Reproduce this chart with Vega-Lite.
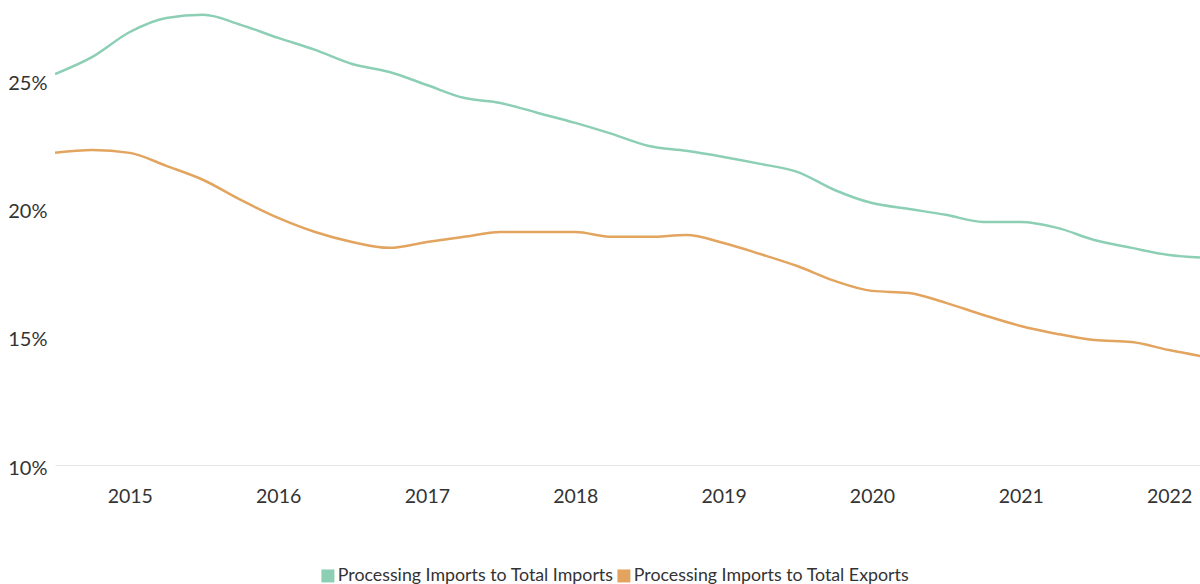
{
  "$schema": "https://vega.github.io/schema/vega-lite/v6.json",
  "width": 1145,
  "height": 465,
  "autosize": {"type": "none"},
  "padding": {"left": 55, "top": 0, "right": 0, "bottom": 119},
  "background": "white",
  "config": {
    "view": {"stroke": null},
    "font": "Lato"
  },
  "data": {
    "values": [
      {"date": "2014-07-01", "series": "Processing Imports to Total Imports", "value": 25.27},
      {"date": "2014-10-01", "series": "Processing Imports to Total Imports", "value": 25.94},
      {"date": "2015-01-01", "series": "Processing Imports to Total Imports", "value": 26.91},
      {"date": "2015-04-01", "series": "Processing Imports to Total Imports", "value": 27.46},
      {"date": "2015-07-01", "series": "Processing Imports to Total Imports", "value": 27.58},
      {"date": "2015-10-01", "series": "Processing Imports to Total Imports", "value": 27.19},
      {"date": "2016-01-01", "series": "Processing Imports to Total Imports", "value": 26.68},
      {"date": "2016-04-01", "series": "Processing Imports to Total Imports", "value": 26.21},
      {"date": "2016-07-01", "series": "Processing Imports to Total Imports", "value": 25.66},
      {"date": "2016-10-01", "series": "Processing Imports to Total Imports", "value": 25.35},
      {"date": "2017-01-01", "series": "Processing Imports to Total Imports", "value": 24.84},
      {"date": "2017-04-01", "series": "Processing Imports to Total Imports", "value": 24.34},
      {"date": "2017-07-01", "series": "Processing Imports to Total Imports", "value": 24.14},
      {"date": "2017-10-01", "series": "Processing Imports to Total Imports", "value": 23.75},
      {"date": "2018-01-01", "series": "Processing Imports to Total Imports", "value": 23.36},
      {"date": "2018-04-01", "series": "Processing Imports to Total Imports", "value": 22.93},
      {"date": "2018-07-01", "series": "Processing Imports to Total Imports", "value": 22.46},
      {"date": "2018-10-01", "series": "Processing Imports to Total Imports", "value": 22.27},
      {"date": "2019-01-01", "series": "Processing Imports to Total Imports", "value": 22.03},
      {"date": "2019-04-01", "series": "Processing Imports to Total Imports", "value": 21.76},
      {"date": "2019-07-01", "series": "Processing Imports to Total Imports", "value": 21.45},
      {"date": "2019-10-01", "series": "Processing Imports to Total Imports", "value": 20.74},
      {"date": "2020-01-01", "series": "Processing Imports to Total Imports", "value": 20.23},
      {"date": "2020-04-01", "series": "Processing Imports to Total Imports", "value": 20.0},
      {"date": "2020-07-01", "series": "Processing Imports to Total Imports", "value": 19.77},
      {"date": "2020-10-01", "series": "Processing Imports to Total Imports", "value": 19.49},
      {"date": "2021-01-01", "series": "Processing Imports to Total Imports", "value": 19.49},
      {"date": "2021-04-01", "series": "Processing Imports to Total Imports", "value": 19.26},
      {"date": "2021-07-01", "series": "Processing Imports to Total Imports", "value": 18.79},
      {"date": "2021-10-01", "series": "Processing Imports to Total Imports", "value": 18.48},
      {"date": "2022-01-01", "series": "Processing Imports to Total Imports", "value": 18.2},
      {"date": "2022-04-01", "series": "Processing Imports to Total Imports", "value": 18.09},
      {"date": "2014-07-01", "series": "Processing Imports to Total Exports", "value": 22.19},
      {"date": "2014-10-01", "series": "Processing Imports to Total Exports", "value": 22.3},
      {"date": "2015-01-01", "series": "Processing Imports to Total Exports", "value": 22.19},
      {"date": "2015-04-01", "series": "Processing Imports to Total Exports", "value": 21.68},
      {"date": "2015-07-01", "series": "Processing Imports to Total Exports", "value": 21.13},
      {"date": "2015-10-01", "series": "Processing Imports to Total Exports", "value": 20.35},
      {"date": "2016-01-01", "series": "Processing Imports to Total Exports", "value": 19.65},
      {"date": "2016-04-01", "series": "Processing Imports to Total Exports", "value": 19.1},
      {"date": "2016-07-01", "series": "Processing Imports to Total Exports", "value": 18.71},
      {"date": "2016-10-01", "series": "Processing Imports to Total Exports", "value": 18.48},
      {"date": "2017-01-01", "series": "Processing Imports to Total Exports", "value": 18.71},
      {"date": "2017-04-01", "series": "Processing Imports to Total Exports", "value": 18.91},
      {"date": "2017-07-01", "series": "Processing Imports to Total Exports", "value": 19.1},
      {"date": "2017-10-01", "series": "Processing Imports to Total Exports", "value": 19.1},
      {"date": "2018-01-01", "series": "Processing Imports to Total Exports", "value": 19.1},
      {"date": "2018-04-01", "series": "Processing Imports to Total Exports", "value": 18.91},
      {"date": "2018-07-01", "series": "Processing Imports to Total Exports", "value": 18.91},
      {"date": "2018-10-01", "series": "Processing Imports to Total Exports", "value": 18.98},
      {"date": "2019-01-01", "series": "Processing Imports to Total Exports", "value": 18.67},
      {"date": "2019-04-01", "series": "Processing Imports to Total Exports", "value": 18.24},
      {"date": "2019-07-01", "series": "Processing Imports to Total Exports", "value": 17.77},
      {"date": "2019-10-01", "series": "Processing Imports to Total Exports", "value": 17.19},
      {"date": "2020-01-01", "series": "Processing Imports to Total Exports", "value": 16.8},
      {"date": "2020-04-01", "series": "Processing Imports to Total Exports", "value": 16.72},
      {"date": "2020-07-01", "series": "Processing Imports to Total Exports", "value": 16.33},
      {"date": "2020-10-01", "series": "Processing Imports to Total Exports", "value": 15.86},
      {"date": "2021-01-01", "series": "Processing Imports to Total Exports", "value": 15.43},
      {"date": "2021-04-01", "series": "Processing Imports to Total Exports", "value": 15.12},
      {"date": "2021-07-01", "series": "Processing Imports to Total Exports", "value": 14.88},
      {"date": "2021-10-01", "series": "Processing Imports to Total Exports", "value": 14.8},
      {"date": "2022-01-01", "series": "Processing Imports to Total Exports", "value": 14.49},
      {"date": "2022-04-01", "series": "Processing Imports to Total Exports", "value": 14.22}
    ]
  },
  "mark": {"type": "line", "interpolate": "monotone", "strokeWidth": 2.5, "clip": true},
  "encoding": {
    "x": {
      "field": "date",
      "type": "temporal",
      "scale": {"domain": ["2014-07-01", "2022-03-18"], "nice": false},
      "axis": {
        "title": null,
        "format": "%Y",
        "values": ["2015-01-01", "2016-01-01", "2017-01-01", "2018-01-01", "2019-01-01", "2020-01-01", "2021-01-01", "2022-01-01"],
        "grid": false,
        "ticks": false,
        "domainColor": "#e6e6e6",
        "domainWidth": 1,
        "labelFontSize": 19.5,
        "labelColor": "#333333",
        "labelPadding": 22,
        "labelFlush": false
      }
    },
    "y": {
      "field": "value",
      "type": "quantitative",
      "scale": {"domain": [10, 28.16], "nice": false, "zero": false},
      "axis": {
        "title": null,
        "values": [10, 15, 20, 25],
        "labelExpr": "datum.value + '%'",
        "grid": false,
        "ticks": false,
        "domain": false,
        "labelFontSize": 20,
        "labelColor": "#333333",
        "labelPadding": 8,
        "labelOffset": 3
      }
    },
    "color": {
      "field": "series",
      "type": "nominal",
      "sort": ["Processing Imports to Total Imports", "Processing Imports to Total Exports"],
      "scale": {"domain": ["Processing Imports to Total Imports", "Processing Imports to Total Exports"], "range": ["#8ccfb5", "#e2a45e"]},
      "legend": {
        "title": null,
        "orient": "none",
        "direction": "horizontal",
        "legendX": 264,
        "legendY": 567,
        "symbolType": "square",
        "symbolSize": 16,
        "symbolStrokeWidth": 9,
        "symbolOpacity": 1,
        "labelFontSize": 17.8,
        "labelColor": "#333333",
        "labelOffset": 1,
        "columnPadding": -11,
        "labelLimit": 400
      }
    }
  }
}
